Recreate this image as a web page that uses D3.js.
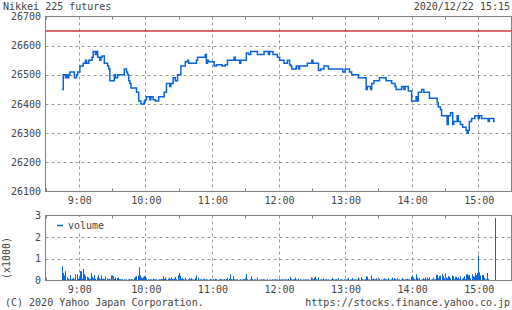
<!DOCTYPE html>
<html>
<head>
<meta charset="utf-8">
<script src="https://cdn.jsdelivr.net/npm/d3@7"></script>
<style>
  body { margin: 0; background: #fff; }
  svg { display: block; }
  text { font-family: "DejaVu Sans Mono", monospace; font-size: 10px; fill: #444; }
</style>
</head>
<body>
<svg></svg>
<script>
const title = "Nikkei 225 futures";
const stamp = "2020/12/22 15:15";
const hourLabels = ["9:00", "10:00", "11:00", "12:00", "13:00", "14:00", "15:00"];
const priceTicks = [26100, 26200, 26300, 26400, 26500, 26600, 26700];
const volumeTicks = [0, 1, 2, 3];
const prevClose = 26650;

// price changes (step line)
const tradeTimes = [
  "8:45", "8:46", "8:48", "8:49", "8:50", "8:51", "8:52", "8:56", "8:58", "8:59",
  "9:01", "9:04", "9:06", "9:07", "9:09", "9:12", "9:13", "9:15", "9:16", "9:17",
  "9:19", "9:20", "9:21", "9:23", "9:26", "9:27", "9:28", "9:32", "9:33", "9:35",
  "9:41", "9:43", "9:44", "9:45", "9:46", "9:47", "9:52", "9:54", "9:56", "9:59",
  "10:00", "10:01", "10:04", "10:05", "10:07", "10:09", "10:12", "10:17", "10:19", "10:22",
  "10:23", "10:25", "10:27", "10:29", "10:32", "10:36", "10:38", "10:39", "10:46", "10:47",
  "10:49", "10:54", "10:55", "10:56", "10:57", "11:02", "11:04", "11:09", "11:12", "11:14",
  "11:20", "11:21", "11:25", "11:26", "11:31", "11:33", "11:35", "11:41", "11:47", "11:51",
  "11:52", "11:55", "11:59", "12:01", "12:05", "12:08", "12:10", "12:11", "12:12", "12:16",
  "12:18", "12:19", "12:26", "12:30", "12:31", "12:36", "12:38", "12:41", "12:45", "12:58",
  "13:00", "13:04", "13:06", "13:12", "13:19", "13:20", "13:23", "13:24", "13:26", "13:31",
  "13:37", "13:42", "13:45", "13:46", "13:51", "13:53", "13:54", "13:57", "14:00", "14:04",
  "14:05", "14:06", "14:09", "14:11", "14:16", "14:23", "14:24", "14:26", "14:27", "14:32",
  "14:33", "14:35", "14:37", "14:38", "14:41", "14:42", "14:44", "14:46", "14:49", "14:50",
  "14:51", "14:52", "14:54", "14:57", "15:00", "15:01", "15:03", "15:09", "15:10", "15:14",
  "15:15"
];
const tradePrices = [
  26450, 26500, 26490, 26500, 26490, 26500, 26510, 26490, 26500, 26510,
  26530, 26540, 26550, 26540, 26550, 26560, 26580, 26570, 26580, 26560,
  26550, 26560, 26565, 26540, 26530, 26520, 26480, 26500, 26490, 26500,
  26520, 26510, 26500, 26480, 26470, 26455, 26440, 26410, 26400, 26410,
  26415, 26425, 26415, 26425, 26415, 26410, 26425, 26440, 26470, 26460,
  26470, 26490, 26480, 26500, 26530, 26545, 26550, 26540, 26550, 26560,
  26560, 26570, 26540, 26550, 26545, 26530, 26535, 26530, 26535, 26550,
  26560, 26550, 26540, 26550, 26575, 26570, 26580, 26570, 26580, 26570,
  26580, 26570, 26560, 26550, 26540, 26550, 26535, 26530, 26520, 26530,
  26520, 26530, 26540, 26550, 26540, 26515, 26520, 26530, 26520, 26510,
  26520, 26510, 26500, 26490, 26450, 26460, 26450, 26470, 26480, 26490,
  26480, 26470, 26460, 26450, 26460, 26450, 26460, 26445, 26410, 26425,
  26410, 26440, 26450, 26440, 26420, 26405, 26390, 26380, 26360, 26330,
  26360, 26370, 26330, 26340, 26360, 26340, 26330, 26320, 26310, 26300,
  26310, 26340, 26350, 26360, 26350, 26360, 26350, 26340, 26350, 26340,
  26340
];

// volume per minute from 8:45
const volumeStart = "8:45";
const volumes = [
  660, 340, 230, 430, 150, 80, 50, 250, 50, 80, 120, 60, 290, 290, 80,
  140, 430, 430, 80, 540, 290, 200, 170, 140, 80, 60, 340, 170, 100, 250,
  80, 140, 250, 110, 60, 230, 80, 80, 60, 180, 100, 60, 80, 50, 230,
  230, 200, 80, 150, 110, 150, 60, 60, 50, 60, 40, 50, 40, 60, 50,
  60, 50, 70, 50, 40, 110, 170, 200, 230, 610, 230, 140, 100, 160, 200,
  180, 100, 60, 40, 60, 50, 40, 80, 60, 50, 70, 40, 60, 50, 80,
  60, 200, 70, 140, 50, 80, 130, 60, 150, 70, 60, 90, 170, 60, 230,
  340, 230, 80, 130, 60, 40, 130, 50, 60, 90, 60, 110, 50, 60, 40,
  120, 230, 130, 40, 60, 50, 40, 60, 80, 40, 60, 50, 40, 70, 50,
  40, 60, 50, 80, 60, 40, 50, 70, 60, 40, 50, 60, 40, 70, 130,
  80, 290, 60, 50, 200, 60, 40, 50, 60, 40, 60, 50, 40, 70, 60,
  80, 290, 60, 40, 60, 200, 60, 40, 50, 60, 40, 140, 50, 40, 60,
  40, 60, 50, 40, 30, 60, 40, 50, 30, 60, 40, 50, 60, 40, 50,
  70, 50, 40, 60, 50, 40, 60, 50, 40, 70, 170, 60, 40, 50, 60,
  140, 50, 40, 80, 60, 40, 30, 50, 40, 60, 50, 40, 60, 40, 140,
  50, 60, 130, 170, 60, 40, 140, 50, 60, 40, 100, 40, 50, 60, 40,
  60, 40, 50, 120, 60, 40, 50, 60, 40, 110, 50, 60, 40, 30, 60,
  40, 50, 60, 120, 40, 50, 110, 40, 50, 60, 40, 50, 140, 50, 160,
  60, 50, 40, 60, 200, 170, 50, 60, 230, 60, 100, 50, 60, 100, 40,
  60, 80, 50, 40, 60, 100, 50, 60, 40, 110, 50, 60, 140, 50, 110,
  60, 50, 110, 40, 60, 50, 110, 60, 40, 50, 60, 80, 50, 60, 170,
  230, 140, 60, 50, 290, 140, 60, 110, 50, 60, 110, 60, 140, 50, 140,
  60, 140, 50, 60, 140, 50, 60, 260, 260, 100, 200, 230, 290, 200, 100,
  320, 140, 100, 200, 170, 100, 230, 200, 60, 170, 170, 100, 140, 60, 200,
  80, 120, 200, 60, 290, 290, 230, 260, 100, 290, 200, 180, 350, 250, 350,
  1150, 380, 230, 260, 260, 120, 60, 50, 350, 80, 0, 0, 0, 0, 0,
  2880
];

const width = 512, height = 310;
const blue = "#0a64dc";
const frameColor = "#808080";
const gridColor = "#999";

const svg = d3.select("svg").attr("width", width).attr("height", height);

function toMin(s) {
  const p = s.split(":");
  return +p[0] * 60 + +p[1];
}

const x = d3.scaleLinear().domain([toMin("8:30"), toMin("15:30")]).range([45.5, 511.5]);
const yPrice = d3.scaleLinear().domain([26100, 26700]).range([191.5, 16.5]);
const yVol = d3.scaleLinear().domain([0, 3000]).range([280.5, 215.5]);

const hourMins = hourLabels.map(toMin);
const halfMins = d3.range(toMin("8:30"), toMin("15:31"), 60);

function panel(y, ticks, tickFmt) {
  const g = svg.append("g");
  const [y0, y1] = y.range();
  // horizontal grid
  g.selectAll(".hg")
    .data(ticks.filter(t => t !== y.domain()[0] && t !== y.domain()[1]))
    .enter().append("line")
    .attr("x1", x.range()[0]).attr("x2", x.range()[1])
    .attr("y1", d => Math.round(y(d)) + 0.5).attr("y2", d => Math.round(y(d)) + 0.5)
    .attr("stroke", gridColor).attr("stroke-dasharray", "3,3");
  // vertical grid
  g.selectAll(".vg")
    .data(hourMins)
    .enter().append("line")
    .attr("x1", d => Math.round(x(d)) + 0.5).attr("x2", d => Math.round(x(d)) + 0.5)
    .attr("y1", y1).attr("y2", y0)
    .attr("stroke", gridColor).attr("stroke-dasharray", "3,3");
  // y labels
  g.selectAll(".yl")
    .data(ticks)
    .enter().append("text")
    .attr("x", 41).attr("y", d => y(d) + 3.5)
    .attr("text-anchor", "end")
    .text(tickFmt);
  // x labels
  g.selectAll(".xl")
    .data(hourLabels)
    .enter().append("text")
    .attr("x", d => x(toMin(d)) + 1)
    .attr("y", y0 + 12)
    .attr("text-anchor", "middle")
    .text(d => d);
  return g;
}

function frame(y) {
  const [y0, y1] = y.range();
  const g = svg.append("g");
  g.append("rect")
    .attr("x", x.range()[0]).attr("y", y1)
    .attr("width", x.range()[1] - x.range()[0]).attr("height", y0 - y1)
    .attr("fill", "none").attr("stroke", frameColor);
  g.selectAll(".tt")
    .data(halfMins)
    .enter().append("line")
    .attr("x1", d => Math.round(x(d)) + 0.5).attr("x2", d => Math.round(x(d)) + 0.5)
    .attr("y1", y1).attr("y2", y1 + 3)
    .attr("stroke", frameColor);
  g.selectAll(".bt")
    .data(halfMins)
    .enter().append("line")
    .attr("x1", d => Math.round(x(d)) + 0.5).attr("x2", d => Math.round(x(d)) + 0.5)
    .attr("y1", y0).attr("y2", y0 - 3)
    .attr("stroke", frameColor);
}

// price panel
panel(yPrice, priceTicks, d => d);

svg.append("line")
  .attr("x1", x.range()[0]).attr("x2", x.range()[1])
  .attr("y1", yPrice(prevClose)).attr("y2", yPrice(prevClose))
  .attr("stroke", "#d23c3c").attr("stroke-width", 1.5);

const trades = tradeTimes.map((t, i) => ({ t: toMin(t), p: tradePrices[i] }));
const line = d3.line()
  .x(d => x(d.t))
  .y(d => yPrice(d.p))
  .curve(d3.curveStepAfter);

svg.append("path")
  .datum(trades)
  .attr("d", line)
  .attr("fill", "none")
  .attr("stroke", blue)
  .attr("stroke-width", 1.5);

frame(yPrice);

// volume panel
panel(yVol, volumeTicks.map(v => v * 1000), d => d / 1000);

const v0 = toMin(volumeStart);
svg.append("g").selectAll("rect")
  .data(volumes.map((v, i) => ({ t: v0 + i, v: v })).filter(d => d.v > 0))
  .enter().append("rect")
  .attr("x", d => Math.round(x(d.t)))
  .attr("width", 1)
  .attr("y", d => yVol(d.v))
  .attr("height", d => yVol(0) - yVol(d.v))
  .attr("fill", blue);

frame(yVol);

// legend (white box hides the grid behind it)
svg.append("rect")
  .attr("x", 50).attr("y", 217).attr("width", 60).attr("height", 14)
  .attr("fill", "#fff");
svg.append("line")
  .attr("x1", 57).attr("x2", 63).attr("y1", 225.5).attr("y2", 225.5)
  .attr("stroke", blue).attr("stroke-width", 1.5);
svg.append("text").attr("x", 68).attr("y", 229).text("volume");

svg.append("text")
  .attr("transform", "translate(10,258) rotate(-90)")
  .attr("text-anchor", "middle")
  .text("(x1000)");

// header / footer
svg.append("text").attr("x", 3).attr("y", 10).text(title);
svg.append("text").attr("x", 510).attr("y", 10).attr("text-anchor", "end").text(stamp);
svg.append("text").attr("x", 5).attr("y", 306).text("(C) 2020 Yahoo Japan Corporation.");
svg.append("text").attr("x", 510).attr("y", 306).attr("text-anchor", "end").text("https://stocks.finance.yahoo.co.jp");
</script>
</body>
</html>
